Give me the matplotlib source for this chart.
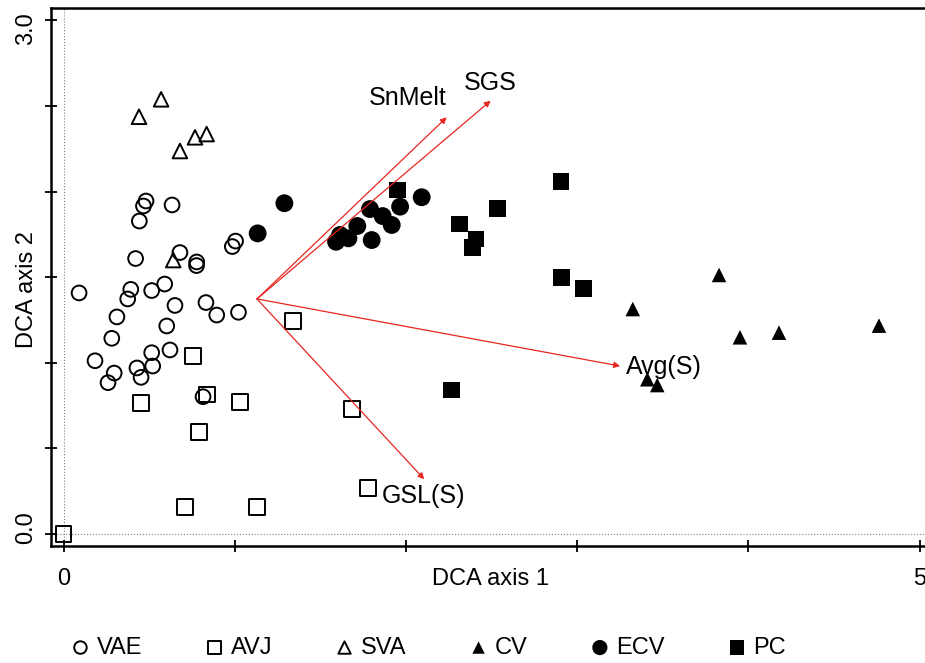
import numpy as np
import matplotlib
matplotlib.use('Agg')
import matplotlib.pyplot as plt

# site scores
vae_x = [0.482, 0.467, 0.634, 0.443, 0.421, 0.680, 0.778, 0.777, 1.005, 0.986,
         0.091, 0.393, 0.375, 0.515, 0.591, 0.651, 0.832, 0.895, 1.022, 0.312,
         0.603, 0.282, 0.515, 0.622, 0.184, 0.296, 0.260, 0.429, 0.453, 0.521, 0.815]
vae_y = [1.945, 1.916, 1.922, 1.828, 1.609, 1.644, 1.589, 1.568, 1.711, 1.679,
         1.408, 1.429, 1.373, 1.422, 1.460, 1.335, 1.352, 1.279, 1.295, 1.268,
         1.215, 1.143, 1.059, 1.075, 1.012, 0.940, 0.884, 0.970, 0.915, 0.981, 0.802]

avj_x = [0.000, 0.710, 1.132, 0.453, 0.755, 0.840, 1.031, 0.790, 1.342, 1.683, 1.780]
avj_y = [0.000, 0.156, 0.159, 0.767, 1.040, 0.814, 0.773, 0.594, 1.246, 0.730, 0.270]

sva_x = [0.570, 0.441, 0.768, 0.836, 0.680, 0.641]
sva_y = [2.539, 2.437, 2.317, 2.336, 2.237, 1.600]

cv_x = [3.829, 3.325, 3.951, 4.179, 4.763, 3.410, 3.468]
cv_y = [1.513, 1.314, 1.149, 1.176, 1.217, 0.904, 0.870]

ecv_x = [1.290, 1.134, 2.092, 1.966, 1.790, 1.864, 1.917, 1.716, 1.615, 1.664, 1.592, 1.800]
ecv_y = [1.932, 1.756, 1.967, 1.912, 1.898, 1.857, 1.805, 1.799, 1.747, 1.727, 1.707, 1.717]

pc_x = [2.906, 2.534, 2.312, 2.409, 2.390, 2.910, 3.036, 1.952, 2.267]
pc_y = [2.058, 1.902, 1.810, 1.723, 1.672, 1.499, 1.435, 2.009, 0.841]

# environmental vectors
vec_origin = (1.130, 1.373)
vec_names = ['SnMelt', 'SGS', 'Avg(S)', 'GSL(S)']
vec_x = [2.238, 2.495, 3.251, 2.107]
vec_y = [2.434, 2.531, 0.981, 0.320]

plt.rcParams['font.family'] = ['Liberation Sans', 'DejaVu Sans']

fig = plt.figure(figsize=(9.25, 6.63), dpi=100)
ax = fig.add_axes([50.7 / 925, 117 / 663, 879.3 / 925, 538 / 663])

ax.axvline(0, color='grey', lw=0.8, ls=':', zorder=0)
ax.axhline(0, color='grey', lw=0.8, ls=':', zorder=0)

ax.scatter(vae_x, vae_y, s=112, marker='o', facecolors='none', edgecolors='black', linewidths=1.4, label='VAE')
ax.scatter(avj_x, avj_y, s=128, marker='s', facecolors='none', edgecolors='black', linewidths=1.4, label='AVJ')
ax.scatter(sva_x, sva_y, s=110, marker='^', facecolors='none', edgecolors='black', linewidths=1.4, label='SVA')
ax.scatter(cv_x, cv_y, s=110, marker='^', color='black', edgecolors='none', label='CV')
ax.scatter(ecv_x, ecv_y, s=165, marker='o', color='black', edgecolors='none', label='ECV')
ax.scatter(pc_x, pc_y, s=145, marker='s', color='black', edgecolors='none', label='PC')

for x, y in zip(vec_x, vec_y):
    ax.annotate('', xy=(x, y), xytext=vec_origin,
                arrowprops=dict(arrowstyle='-|>', color='#e8261f', lw=0.9,
                                mutation_scale=9, shrinkA=0, shrinkB=0))

lab_font = dict(fontsize=18)
ax.text(2.01, 2.548, 'SnMelt', ha='center', va='center', **lab_font)
ax.text(2.49, 2.634, 'SGS', ha='center', va='center', **lab_font)
ax.text(3.285, 0.975, 'Avg(S)', ha='left', va='center', **lab_font)
ax.text(2.105, 0.223, 'GSL(S)', ha='center', va='center', **lab_font)

ax.set_xlim(-0.0748, 5.061)
ax.set_ylim(-0.0701, 3.0724)
ax.set_xticks(np.arange(0, 6, 1))
ax.set_xticklabels(['0', '', '', '', '', '5'], fontsize=17)
ax.set_yticks(np.arange(0, 3.01, 0.5))
ax.set_yticklabels([])
ytrans = ax.get_yaxis_transform()
ax.text(-0.0285, 2.950, '3.0', rotation=90, ha='center', va='center',
        fontsize=17, transform=ytrans, clip_on=False)
ax.text(-0.0285, 0.038, '0.0', rotation=90, ha='center', va='center',
        fontsize=17, transform=ytrans, clip_on=False)
ax.tick_params(direction='inout', length=9, width=1.3, pad=11)
for sp in ax.spines.values():
    sp.set_linewidth(1.8)

ax.set_xlabel('DCA axis 1', fontsize=17)
ax.xaxis.set_label_coords(0.5, -0.04)
ax.set_ylabel('DCA axis 2', fontsize=17)
ax.yaxis.set_label_coords(-0.0144, 0.476)

fig.legend(loc='center', bbox_to_anchor=(0.462, 0.023), ncol=6, frameon=False,
           fontsize=17, markerscale=0.85, handletextpad=0.2, columnspacing=2.55,
           handlelength=1.0)

fig.savefig('out.png', dpi=100)
